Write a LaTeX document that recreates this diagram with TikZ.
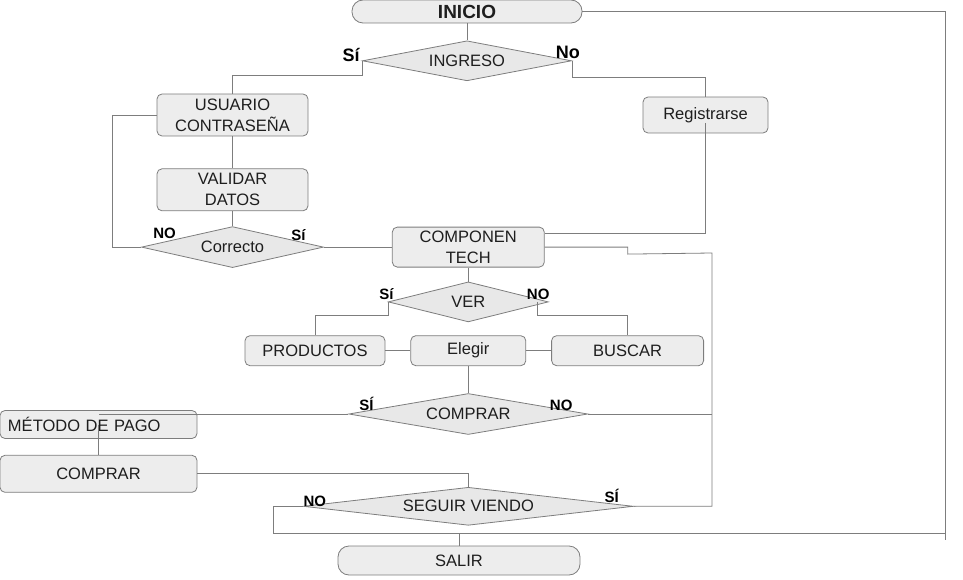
\documentclass[tikz,border=0pt]{standalone}
\usepackage{fontspec}
\setmainfont{Liberation Sans}
\usetikzlibrary{shapes,positioning}
\definecolor{linea}{RGB}{125,125,125}
\definecolor{relleno}{RGB}{237,237,237}
\definecolor{rombo}{RGB}{232,232,232}
\definecolor{texto}{RGB}{30,30,30}
\tikzset{
	process/.style={
		rectangle,
		rounded corners=5pt,
		draw=linea,
		fill=relleno,
		line width=0.8pt,
		text=texto,
		inner sep=0pt,
		align=center,
		font=\fontsize{16.5}{21}\selectfont
	},
	decision/.style={
		diamond,
		draw=linea,
		fill=rombo,
		line width=0.8pt,
		text=texto,
		inner sep=0pt,
		font=\fontsize{16.5}{21}\selectfont
	},
	terminal/.style={
		rectangle,
		rounded corners=11pt,
		draw=linea,
		fill=relleno,
		line width=0.8pt,
		text=texto,
		inner sep=0pt,
		font=\fontsize{16.5}{21}\selectfont
	},
	answer/.style={
		inner sep=0pt,
		text=black,
		font=\bfseries\fontsize{15}{15}\selectfont
	},
	link/.style={
		draw=linea,
		line width=0.8pt
	}
}
\begin{document}
\begin{tikzpicture}[x=1pt,y=-1pt,node distance=1cm]
		\useasboundingbox (0,0) rectangle (963,580);
		\node [terminal,minimum width=230pt,minimum height=23pt,font=\bfseries\fontsize{19}{19}\selectfont] (inicio) at (467,11.5) {INICIO};
		\node [decision,minimum width=209pt,minimum height=40pt,shape aspect=5.2] (ingreso) [below=17pt of inicio] {INGRESO};
		\node [process,minimum width=151pt,minimum height=42pt] (usuario) at (232.5,115) {USUARIO\\CONTRASEÑA};
		\node [process,minimum width=125pt,minimum height=36pt] (registro) at (705.5,115) {Registrarse};
		\node [process,minimum width=151pt,minimum height=42pt] (validar) [below=32pt of usuario] {VALIDAR\\DATOS};
		\node [decision,minimum width=182pt,minimum height=41pt,shape aspect=4.4] (correcto) [below=15pt of validar] {Correcto};
		\node [process,minimum width=152pt,minimum height=40pt] (componen) [right=68pt of correcto] {COMPONEN\\TECH};
		\node [decision,minimum width=160pt,minimum height=40pt,shape aspect=4] (ver) [below=14pt of componen] {VER};
		\node [process,minimum width=115pt,minimum height=30pt] (elegir) [below=13pt of ver] {Elegir};
		\node [process,minimum width=140pt,minimum height=30pt] (productos) [left=25pt of elegir] {PRODUCTOS};
		\node [process,minimum width=152pt,minimum height=30pt] (buscar) [right=25pt of elegir] {BUSCAR};
		\node [decision,minimum width=239pt,minimum height=41pt,shape aspect=5.8] (comprar) [below=27pt of elegir] {COMPRAR};
		\node [process,minimum width=197pt,minimum height=28pt,text width=181pt,align=left] (metodo) at (98.5,424.5) {MÉTODO DE PAGO};
		\node [process,minimum width=197pt,minimum height=37pt] (pagar) [below=16pt of metodo] {COMPRAR};
		\node [decision,minimum width=330pt,minimum height=38pt,shape aspect=8.7] (seguir) [below=52pt of comprar] {SEGUIR VIENDO};
		\node [terminal,minimum width=242pt,minimum height=29pt] (salir) at (459,560.5) {SALIR};
		% respuestas
		\node [answer,font=\bfseries\fontsize{18}{18}\selectfont] (si1) at ([shift={(-11pt,6pt)}]ingreso.west) {Sí};
		\node [answer,font=\bfseries\fontsize{18}{18}\selectfont] (no1) at ([shift={(-4pt,8pt)}]ingreso.east) {No};
		\node [answer] (no2) at ([shift={(23.5pt,13.5pt)}]correcto.west) {NO};
		\node [answer] (si2) at ([shift={(-25.5pt,12.5pt)}]correcto.east) {Sí};
		\node [answer] (si3) at ([shift={(-1.5pt,8pt)}]ver.west) {Sí};
		\node [answer] (no3) at ([shift={(-10.5pt,8pt)}]ver.east) {NO};
		\node [answer] (si4) at ([shift={(18pt,10.5pt)}]comprar.west) {SÍ};
		\node [answer] (no4) at ([shift={(-27pt,8.5pt)}]comprar.east) {NO};
		\node [answer] (no5) at ([shift={(12pt,5pt)}]seguir.west) {NO};
		\node [answer] (si5) at ([shift={(-22pt,10pt)}]seguir.east) {SÍ};
		\coordinate (esquina) at (945,533);
		\coordinate (bajada) at (712,253);
		% conexiones
		\draw [link] (inicio) -- (ingreso);
		\draw [link] (ingreso.west) -- ++(0,15) -| (usuario.north);
		\draw [link] (ingreso.east) -- ++(0,17) -| (registro.north);
		\draw [link] (usuario) -- (validar);
		\draw [link] (validar) -- (correcto);
		\draw [link] (usuario.west) -- ++(-44,0) |- (correcto.west);
		\draw [link] (correcto) -- (componen);
		\draw [link] ([yshift=-8pt]registro.center) |- ([yshift=14pt]componen.east);
		\draw [link] (componen.east) -- ++(83,0) -- ++(0,7) -- (bajada) |- (seguir.east);
		\draw [link] (comprar.east) -- (comprar.east -| bajada);
		\draw [link] (componen) -- (ver);
		\draw [link] (ver.west) -- ++(0,13) -| (productos.north);
		\draw [link] ([xshift=-11pt]ver.east) -- ++(0,13) -| (buscar.north);
		\draw [link] (productos) -- (elegir);
		\draw [link] (elegir) -- (buscar);
		\draw [link] (elegir) -- (comprar);
		\draw [link] (comprar.west) -- (comprar.west -| metodo.north);
		\draw [link] (metodo.center) -- (pagar.north);
		\draw [link] (pagar.east) -| (seguir.north);
		\draw [link] (seguir.west) -- ++(-30,0) |- (esquina) |- (inicio.east);
		\draw [link] (esquina) -- ++(0,7);
		\draw [link] (salir.north |- esquina) -- (salir.north);
\end{tikzpicture}
\end{document}
